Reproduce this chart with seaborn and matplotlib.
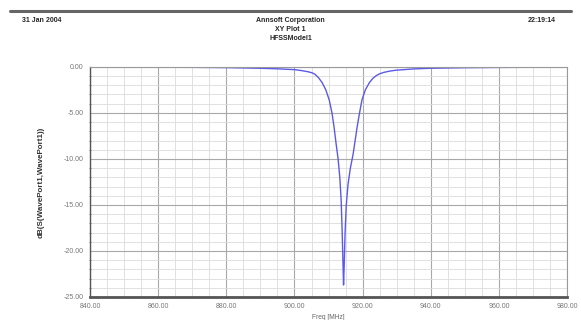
import matplotlib
matplotlib.use("Agg")
import matplotlib.pyplot as plt
from matplotlib.ticker import MultipleLocator
import seaborn as sns
import pandas as pd

# S11 sweep
freq_mhz = [840, 850, 860, 870, 880, 890, 895, 900, 902, 904, 905.2, 906,
            907, 908.1, 909.2, 910.2, 911.0, 911.6, 912.2, 912.8, 913.3, 913.7,
            914.0, 914.25, 914.4, 914.6, 914.85, 915.2, 915.7, 916.4, 917.2,
            917.8, 918.4, 919.1, 919.8, 920.8, 922.0, 923.0, 924.0, 925.0, 926.2,
            927.8, 929.8, 935, 940, 950, 960, 970, 980]
s11_db = [-0.02, -0.03, -0.04, -0.05, -0.08, -0.15, -0.21, -0.3, -0.4, -0.53,
          -0.65, -0.8, -1.15, -1.7, -2.5, -3.6, -5.0, -6.5, -8.3, -10.0, -12.0,
          -14.5, -18.0, -21.5, -23.7, -21.5, -18.0, -15.0, -12.8, -11.0, -9.5,
          -8.0, -6.5, -5.0, -3.6, -2.5, -1.7, -1.25, -0.95, -0.75, -0.6, -0.47,
          -0.36, -0.22, -0.15, -0.09, -0.06, -0.04, -0.03]

x_ticks = [840, 860, 880, 900, 920, 940, 960, 980]
y_ticks = [0, -5, -10, -15, -20, -25]

df = pd.DataFrame({"freq": freq_mhz, "db": s11_db})

sns.set_style("white")
plt.rcParams["font.family"] = ["Liberation Sans", "DejaVu Sans"]

fig = plt.figure(figsize=(5.81, 3.20), dpi=100)
ax = fig.add_axes([0.155, 0.072, 0.821, 0.719])

sns.lineplot(data=df, x="freq", y="db", color="#5a5ae6", linewidth=1.0, ax=ax)

ax.set_xlim(840, 980)
ax.set_ylim(-25, 0)
ax.set_xticks(x_ticks)
ax.set_yticks(y_ticks)
ax.set_xticklabels([f"{v:.2f}" for v in x_ticks])
ax.set_yticklabels([f"{v:.2f}" if v != 0 else "0.00" for v in y_ticks])
ax.xaxis.set_minor_locator(MultipleLocator(5))
ax.yaxis.set_minor_locator(MultipleLocator(1))
ax.grid(which="major", color="#a8a8a8", linewidth=0.8)
ax.grid(which="minor", color="#dcdcdc", linewidth=0.6)
ax.set_axisbelow(True)
ax.tick_params(axis="both", which="major", labelsize=5, labelcolor="#777777",
               color="#555555", length=3, width=0.8, pad=1.5)
ax.tick_params(axis="y", which="minor", color="#777777", length=2, width=0.6,
               direction="inout", left=True)
ax.tick_params(axis="x", which="minor", length=0)

for side in ["top", "right"]:
    ax.spines[side].set_color("#999999")
    ax.spines[side].set_linewidth(0.8)
ax.spines["left"].set_color("#555555")
ax.spines["left"].set_linewidth(1.0)
ax.spines["bottom"].set_color("#555555")
ax.spines["bottom"].set_linewidth(2.0)

ax.set_xlabel("Freq [MHz]", fontsize=4.8, color="#666666", labelpad=3)
ax.set_ylabel("dB(S(WavePort1,WavePort1))", fontsize=5.8, fontweight="bold",
              color="#333333", labelpad=14)

# report header
fig.add_artist(plt.Line2D([0.017, 0.983], [0.966, 0.966], color="#666666",
                          linewidth=2.2, transform=fig.transFigure))
fig.text(0.038, 0.935, "31 Jan 2004", fontsize=5, fontweight="bold",
         ha="left", va="center")
fig.text(0.957, 0.935, "22:19:14", fontsize=5, fontweight="bold",
         ha="right", va="center")
fig.text(0.5, 0.935, "Annsoft Corporation", fontsize=5, fontweight="bold",
         ha="center", va="center")
fig.text(0.5, 0.907, "XY Plot 1", fontsize=5, fontweight="bold",
         ha="center", va="center")
fig.text(0.5, 0.879, "HFSSModel1", fontsize=5, fontweight="bold",
         ha="center", va="center")

fig.savefig("out.png", dpi=100)
